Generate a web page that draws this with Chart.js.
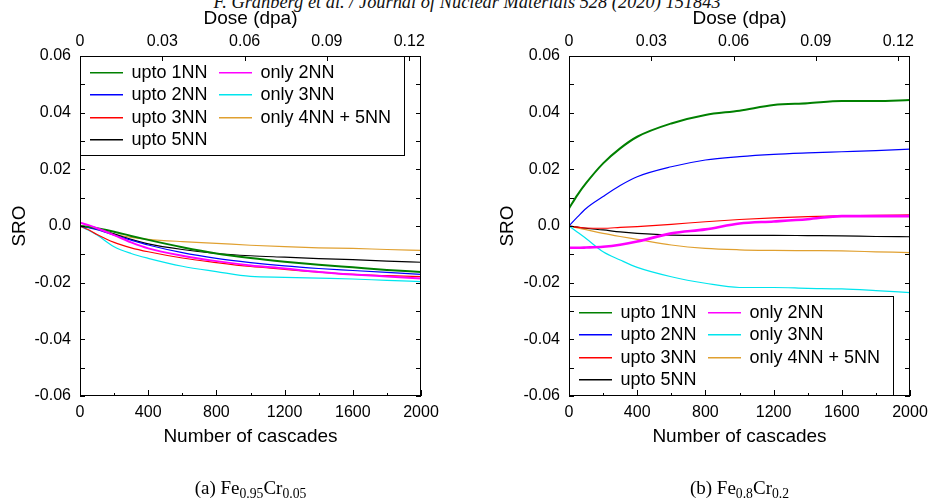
<!DOCTYPE html>
<html>
<head>
<meta charset="utf-8">
<script src="https://cdn.jsdelivr.net/npm/chart.js@4.4.1/dist/chart.umd.min.js"></script>
<style>
  body { margin: 0; background: #fff; width: 928px; height: 500px; overflow: hidden; position: relative; }
  canvas { position: absolute; top: 0; }
  #chartA { left: 0; }
  #chartB { left: 464px; }
  .header { position: absolute; top: -8px; left: 3px; width: 928px; text-align: center;
            font: italic 18.4px/20px 'Liberation Serif', serif; color: #111; white-space: nowrap; }
  .caption { position: absolute; top: 477px; width: 341px; text-align: center;
             font: 19px/22px 'Liberation Serif', serif; color: #000; }
  .caption sub { font-size: 0.72em; vertical-align: -0.3em; line-height: 0; }
</style>
</head>
<body>
<div class="header">F. Granberg et al. / Journal of Nuclear Materials 528 (2020) 151843</div>
<canvas id="chartA" width="464" height="500"></canvas>
<canvas id="chartB" width="464" height="500"></canvas>
<div class="caption" style="left:80px">(a) Fe<sub>0.95</sub>Cr<sub>0.05</sub></div>
<div class="caption" style="left:569px">(b) Fe<sub>0.8</sub>Cr<sub>0.2</sub></div>

<script>
const cascades = [0, 50, 100, 200, 300, 400, 600, 800, 1000, 1200, 1400, 1600, 1800, 2000];
const doseAtMaxCascades = 0.1243;

const seriesLabels = ['upto 1NN', 'upto 2NN', 'upto 3NN', 'upto 5NN', 'only 2NN', 'only 3NN', 'only 4NN + 5NN'];
const seriesColors = ['#008000', '#0000ff', '#ff0000', '#000000', '#ff00ff', '#00e5ee', '#e0a030'];

// tick positions
const cascadeTicks = [0, 200, 400, 600, 800, 1000, 1200, 1400, 1600, 1800, 2000];
const doseTicks = [0, 0.03, 0.06, 0.09, 0.12];
const sroTicks = [-0.06, -0.05, -0.04, -0.03, -0.02, -0.01, 0, 0.01, 0.02, 0.03, 0.04, 0.05, 0.06];

// (a) Fe0.95Cr0.05
const feCr05Upto1 = [0, -0.0003, -0.0008, -0.002, -0.0035, -0.0049, -0.0075, -0.0097, -0.0113, -0.0126, -0.0137, -0.0146, -0.0155, -0.0162];
const feCr05Upto2 = [0, -0.0006, -0.0013, -0.0032, -0.005, -0.0067, -0.0094, -0.0114, -0.0129, -0.0141, -0.015, -0.0157, -0.0164, -0.0171];
const feCr05Upto3 = [0, -0.0013, -0.003, -0.0058, -0.0077, -0.0091, -0.0113, -0.0129, -0.0143, -0.0153, -0.0163, -0.0171, -0.0175, -0.0179];
const feCr05Upto5 = [0, -0.0004, -0.001, -0.0028, -0.0047, -0.0063, -0.0083, -0.0097, -0.0105, -0.011, -0.0115, -0.0119, -0.0124, -0.0128];
const feCr05Only2 = [0.0012, 0.0003, -0.0008, -0.0032, -0.0058, -0.0079, -0.0105, -0.0124, -0.0139, -0.015, -0.0162, -0.0171, -0.0178, -0.0185];
const feCr05Only3 = [0, -0.0015, -0.0032, -0.0073, -0.0097, -0.0114, -0.0142, -0.0161, -0.0178, -0.0181, -0.0184, -0.0187, -0.0192, -0.0196];
const feCr05Only45 = [0, -0.0005, -0.0012, -0.0029, -0.004, -0.0047, -0.0055, -0.0061, -0.0068, -0.0073, -0.0077, -0.0079, -0.0083, -0.0086];

// (b) Fe0.8Cr0.2
const feCr20Upto1 = [0.0062, 0.011, 0.0151, 0.0221, 0.0274, 0.0315, 0.0362, 0.0392, 0.0407, 0.0427, 0.0433, 0.0441, 0.0441, 0.0445];
const feCr20Upto2 = [0, 0.0032, 0.0062, 0.0104, 0.0143, 0.0174, 0.0209, 0.0233, 0.0245, 0.0253, 0.0258, 0.0262, 0.0266, 0.0271];
const feCr20Upto3 = [0, -0.0004, -0.0007, -0.0008, -0.0005, -0.0002, 0.0006, 0.0015, 0.0023, 0.0029, 0.0033, 0.0036, 0.0038, 0.0039];
const feCr20Upto5 = [0, -0.0004, -0.0008, -0.0014, -0.0021, -0.0026, -0.0032, -0.0033, -0.0033, -0.0033, -0.0034, -0.0035, -0.0037, -0.0038];
const feCr20Only2 = [-0.0077, -0.0077, -0.0076, -0.0073, -0.0066, -0.0055, -0.0026, -0.0012, 0.0009, 0.0016, 0.0024, 0.0035, 0.0035, 0.0035];
const feCr20Only3 = [0, -0.0022, -0.0044, -0.0091, -0.012, -0.0146, -0.0179, -0.0202, -0.0217, -0.0217, -0.022, -0.0222, -0.0228, -0.0235];
const feCr20Only45 = [0, -0.0007, -0.0013, -0.0026, -0.0037, -0.0047, -0.0067, -0.0079, -0.0084, -0.0086, -0.0087, -0.0088, -0.0091, -0.0094];

const FONT = "'Liberation Sans', Arial, sans-serif";

// Legend box drawn inside the plot area, two columns like the original
const sroLegend = {
    id: 'sroLegend',
    afterDatasetsDraw(chart, args, opts) {
        const { ctx, chartArea: a } = chart;
        const w = 324, h = 100;
        const x0 = Math.round(a.left), y0 = Math.round(opts.anchor === 'bottom' ? a.bottom - h : a.top);
        ctx.save();
        ctx.fillStyle = '#ffffff';
        ctx.fillRect(x0, y0, w, h);
        ctx.strokeStyle = '#000000';
        ctx.lineWidth = 1;
        ctx.strokeRect(x0 + 0.5, y0 + 0.5, w, h - 1);
        ctx.font = '18px ' + FONT;
        ctx.textBaseline = 'middle';
        ctx.textAlign = 'left';
        for (let i = 0; i < seriesLabels.length; i++) {
            const col = i < 4 ? 0 : 1;
            const row = i < 4 ? i : i - 4;
            const lx = x0 + (col ? 139 : 10);
            const ly = Math.round(y0 + 16 + 22.3 * row);
            ctx.fillStyle = seriesColors[i];
            ctx.fillRect(lx, ly, 33, 1.5);
            ctx.fillStyle = '#000000';
            ctx.fillText(seriesLabels[i], lx + 41.5, ly + 1.5);
        }
        ctx.restore();
    }
};

// gnuplot style frame with inward ticks on all four sides
const frameTicks = {
    id: 'frameTicks',
    afterDraw(chart) {
        const { ctx, chartArea: a, scales } = chart;
        ctx.save();
        ctx.strokeStyle = '#000';
        ctx.lineWidth = 1;
        ctx.beginPath();
        cascadeTicks.forEach(n => {
            const x = Math.round(scales.x.getPixelForValue(n)) + 0.5;
            const len = n % 400 === 0 ? 6 : 3;
            ctx.moveTo(x, a.bottom);
            ctx.lineTo(x, a.bottom - len);
        });
        doseTicks.forEach(d => {
            const x = Math.round(scales.x2.getPixelForValue(d)) + 0.5;
            ctx.moveTo(x, a.top);
            ctx.lineTo(x, a.top + 5);
        });
        sroTicks.forEach(v => {
            const y = Math.round(scales.y.getPixelForValue(v)) + 0.5;
            ctx.moveTo(a.left, y);
            ctx.lineTo(a.left + 5, y);
            ctx.moveTo(a.right, y);
            ctx.lineTo(a.right - 5, y);
        });
        ctx.stroke();
        ctx.strokeRect(Math.round(a.left) + 0.5, Math.round(a.top) + 0.5,
            Math.round(a.width) - 1, Math.round(a.height) - 1);
        ctx.restore();
    }
};

function makeChart(canvasId, series, cfg) {
    const datasets = series.map((vals, i) => ({
        label: seriesLabels[i],
        data: cascades.map((n, k) => ({ x: n, y: vals[k] })),
        borderColor: seriesColors[i],
        borderWidth: cfg.widths[i],
        pointRadius: 0,
        cubicInterpolationMode: 'monotone',
        fill: false,
        order: cfg.order[i]
    }));

    const tickFont = { family: FONT, size: 16 };
    const titleFont = { family: FONT, size: 19 };

    return new Chart(document.getElementById(canvasId), {
        type: 'line',
        data: { datasets },
        plugins: [sroLegend, frameTicks],
        options: {
            responsive: false,
            animation: false,
            devicePixelRatio: 1,
            layout: { padding: 0 },
            plugins: {
                legend: { display: false },
                tooltip: { enabled: false },
                sroLegend: { anchor: cfg.legendAnchor }
            },
            scales: {
                x: {
                    type: 'linear', position: 'bottom', min: 0, max: 2000,
                    grid: { display: false, drawTicks: false },
                    border: { display: false },
                    ticks: { stepSize: 400, padding: 7, color: '#000', font: tickFont, maxRotation: 0, autoSkip: false,
                             callback: v => String(v) },
                    title: { display: true, text: 'Number of cascades', color: '#000', font: titleFont, padding: { top: 0, bottom: 51.5 } },
                    afterFit: s => { s.height = 104; s.paddingLeft = 0; s.paddingRight = 0; }
                },
                x2: {
                    type: 'linear', position: 'top', min: 0, max: doseAtMaxCascades,
                    grid: { display: false, drawTicks: false },
                    border: { display: false },
                    ticks: {
                        stepSize: 0.03, includeBounds: false, padding: 5, color: '#000', font: tickFont,
                        maxRotation: 0, autoSkip: false,
                        callback: v => String(parseFloat(v.toFixed(2)))
                    },
                    title: { display: true, text: 'Dose (dpa)', color: '#000', font: titleFont, padding: { top: 7.5, bottom: 0 } },
                    afterFit: s => { s.height = 56; s.paddingLeft = 0; s.paddingRight = 0; }
                },
                y: {
                    type: 'linear', position: 'left', min: -0.06, max: 0.06,
                    grid: { display: false, drawTicks: false },
                    border: { display: false },
                    ticks: {
                        stepSize: 0.02, padding: 9, color: '#000', font: tickFont, autoSkip: false,
                        callback: v => Math.abs(v) < 1e-9 ? '0.0' : v.toFixed(2)
                    },
                    title: { display: true, text: 'SRO', color: '#000', font: titleFont, padding: { top: cfg.sroPad, bottom: 0 } },
                    afterFit: s => { s.width = cfg.leftW; s.paddingTop = 0; s.paddingBottom = 0; }
                },
                y2: {
                    type: 'linear', position: 'right', min: -0.06, max: 0.06,
                    grid: { display: false, drawTicks: false },
                    border: { display: false },
                    ticks: { display: false },
                    afterFit: s => { s.width = cfg.rightW; s.paddingTop = 0; s.paddingBottom = 0; }
                }
            }
        }
    });
}

makeChart('chartA',
    [feCr05Upto1, feCr05Upto2, feCr05Upto3, feCr05Upto5, feCr05Only2, feCr05Only3, feCr05Only45],
    { leftW: 80, rightW: 43, sroPad: 8.6, legendAnchor: 'top',
      widths: [2, 1.2, 1.2, 1.2, 2, 1.2, 1.2], order: [1, 3, 4, 5, 0, 6, 7] });

makeChart('chartB',
    [feCr20Upto1, feCr20Upto2, feCr20Upto3, feCr20Upto5, feCr20Only2, feCr20Only3, feCr20Only45],
    { leftW: 105, rightW: 18, sroPad: 32.6, legendAnchor: 'bottom',
      widths: [2, 1.2, 1.2, 1.2, 2.6, 1.2, 1.2], order: [1, 3, 4, 5, 0, 6, 7] });
</script>
</body>
</html>
